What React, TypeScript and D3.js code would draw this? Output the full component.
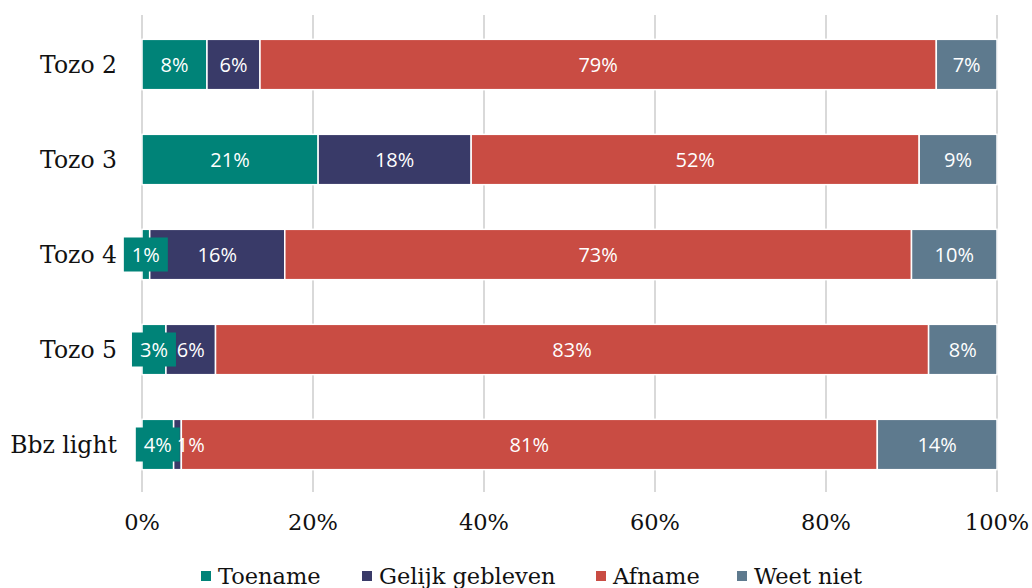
import React from "react";
import * as d3 from "d3";

const categories = ["Tozo 2", "Tozo 3", "Tozo 4", "Tozo 5", "Bbz light"];
const seriesNames = ["Toename", "Gelijk gebleven", "Afname", "Weet niet"];
const toename = [7.6, 20.6, 0.9, 2.8, 3.7];
const gelijk = [6.2, 17.9, 15.8, 5.8, 0.9];
const afname = [79.1, 52.4, 73.3, 83.4, 81.4];
const weetNiet = [7.1, 9.1, 10.0, 8.0, 14.0];
const tickValues = [0, 20, 40, 60, 80, 100];
const colors = ["#008378", "#393A68", "#C94C43", "#5E7A8E"];

const W = 1032;
const H = 588;
const serif = "'DejaVu Serif', serif";
const sans = "'Open Sans', 'Noto Sans', sans-serif";
const labelSize = 20;

export default function App() {
  const x = d3.scaleLinear().domain([0, 100]).range([142, 997]);
  const y = d3.scaleBand().domain(categories).range([17, 492]).paddingInner(0.47).paddingOuter(0.235);
  const values = [toename, gelijk, afname, weetNiet];
  const rows = categories.map((c, i) => {
    const obj: any = { cat: c };
    seriesNames.forEach((s, j) => (obj[s] = values[j][i]));
    return obj;
  });
  const stacked = d3.stack().keys(seriesNames)(rows);

  // compute label positions, pushing a label right if it collides with the previous callout box
  const labels: any[] = [];
  categories.forEach((c, i) => {
    let prevRight = -Infinity;
    stacked.forEach((layer, j) => {
      const d = layer[i];
      const cx0 = (x(d[0]) + x(d[1])) / 2;
      const cy = y(c)! + y.bandwidth() / 2;
      const w = x(d[1]) - x(d[0]);
      const text = Math.round(d[1] - d[0]) + "%";
      const tw = text.length * 0.55 * labelSize;
      const box = j === 0 && w < 40;
      let cx = cx0;
      if (cx - tw / 2 < prevRight) cx = prevRight + tw / 2;
      prevRight = box ? cx + 22 : cx + tw / 2;
      labels.push({ key: c + j, cx, cy, text, box });
    });
  });

  return (
    <svg width={W} height={H} style={{ position: "absolute", left: 0, top: 0, background: "#fff" }}>
      {tickValues.map((t) => (
        <line key={t} x1={x(t)} x2={x(t)} y1={15} y2={492} stroke="#d9d9d9" strokeWidth={2} />
      ))}
      {stacked.map((layer, j) => (
        <g key={layer.key}>
          {layer.map((d, i) => (
            <rect
              key={i}
              x={x(d[0])}
              y={y(categories[i])}
              width={x(d[1]) - x(d[0])}
              height={y.bandwidth()}
              fill={colors[j]}
              stroke="#fff"
              strokeWidth={1.5}
            />
          ))}
        </g>
      ))}
      {labels.map((l) => (
        <g key={l.key}>
          {l.box && <rect x={l.cx - 22} y={l.cy - 17} width={44} height={34} fill={colors[0]} />}
          <text x={l.cx} y={l.cy} dy="0.35em" textAnchor="middle" fill="#fff" fontFamily={sans} fontSize={labelSize}>
            {l.text}
          </text>
        </g>
      ))}
      {categories.map((c) => (
        <text key={c} x={117} y={y(c)! + y.bandwidth() / 2} dy="0.35em" textAnchor="end" fontFamily={serif} fontSize={23.5} fill="#111">
          {c}
        </text>
      ))}
      {tickValues.map((t) => (
        <text key={"t" + t} x={x(t)} y={522} dy="0.35em" textAnchor="middle" fontFamily={serif} fontSize={22.5} fill="#111">
          {t + "%"}
        </text>
      ))}
      {(() => {
        const pos = [201, 362, 596, 737];
        return seriesNames.map((s, j) => (
          <g key={"lg" + s}>
            <rect x={pos[j]} y={571} width={10} height={10} fill={colors[j]} />
            <text x={pos[j] + 17} y={576} dy="0.35em" fontFamily={serif} fontSize={22.5} fill="#111">
              {s}
            </text>
          </g>
        ));
      })()}
    </svg>
  );
}
